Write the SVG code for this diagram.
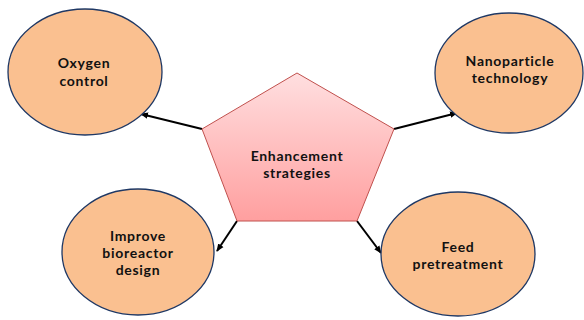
<svg xmlns="http://www.w3.org/2000/svg" width="584" height="320" viewBox="0 0 584 320">
<defs>
<linearGradient id="pg" x1="0" y1="0" x2="0" y2="1">
<stop offset="0" stop-color="#FFDFE0"/>
<stop offset="1" stop-color="#FF9F9F"/>
</linearGradient>
<marker id="ah" markerWidth="8" markerHeight="8" refX="7" refY="4" orient="auto" markerUnits="userSpaceOnUse">
<path d="M0,0.8 L8,4 L0,7.2 Z" fill="#000"/>
</marker>
</defs>
<style>
.node ellipse{fill:#FAC090;stroke:#1F3864;stroke-width:1.3}
.lbl{font-family:Lato,"Liberation Sans",sans-serif;font-weight:bold;font-size:14px;letter-spacing:0.7px;fill:#111;text-anchor:middle}
.conn line{stroke:#000;stroke-width:2;marker-end:url(#ah)}
</style>
<g id="connectors" class="conn">
<line x1="202" y1="129" x2="141" y2="114"/>
<line x1="394" y1="129" x2="457" y2="113"/>
<line x1="237" y1="221" x2="217" y2="251"/>
<line x1="357" y1="221" x2="381" y2="253"/>
</g>
<g id="center">
<polygon points="297,73 394,129 357,221 237,221 202,129" fill="url(#pg)" stroke="#C0504D" stroke-width="1"/>
<text class="lbl" x="297" y="161">Enhancement</text>
<text class="lbl" x="297" y="178">strategies</text>
</g>
<g id="oxygen" class="node">
<ellipse cx="85" cy="72" rx="77" ry="63"/>
<text class="lbl" x="84" y="68">Oxygen</text>
<text class="lbl" x="84" y="86">control</text>
</g>
<g id="nano" class="node">
<ellipse cx="509" cy="73" rx="74" ry="60"/>
<text class="lbl" x="510" y="66">Nanoparticle</text>
<text class="lbl" x="510" y="83">technology</text>
</g>
<g id="bioreactor" class="node">
<ellipse cx="138" cy="252" rx="76" ry="63"/>
<text class="lbl" x="138" y="241">Improve</text>
<text class="lbl" x="138" y="258">bioreactor</text>
<text class="lbl" x="138" y="275">design</text>
</g>
<g id="feed" class="node">
<ellipse cx="458" cy="254" rx="77" ry="62"/>
<text class="lbl" x="458" y="252">Feed</text>
<text class="lbl" x="458" y="269">pretreatment</text>
</g>
</svg>
